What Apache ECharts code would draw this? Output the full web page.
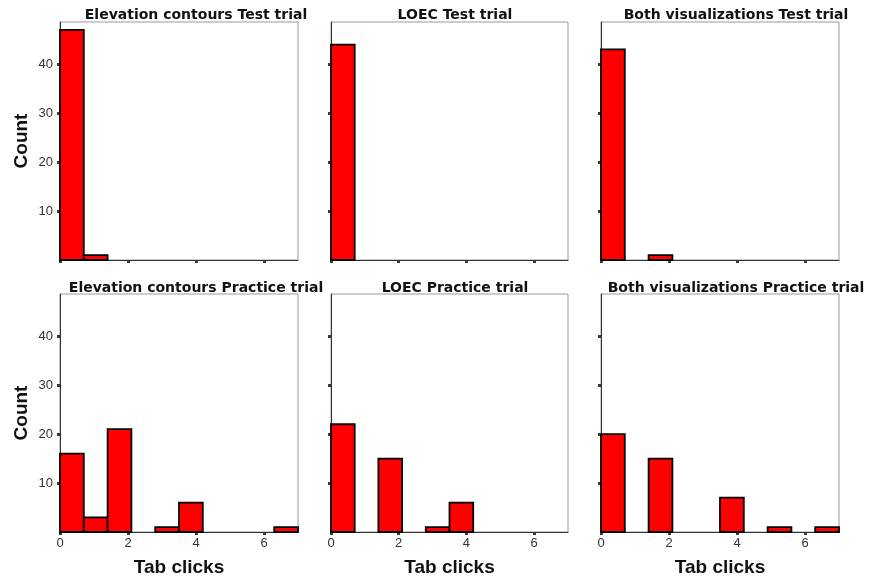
<!DOCTYPE html>
<html>
<head>
<meta charset="utf-8">
<script src="https://cdn.jsdelivr.net/npm/echarts@6/dist/echarts.min.js"></script>
<style>html,body{margin:0;padding:0;background:#fff;}#chart{width:878px;height:581px;}</style>
</head>
<body>
<div id="chart"></div>
<script>
// Histogram bin edges (Tab clicks), bin width 0.7
const binEdges = [0, 0.7, 1.4, 2.1, 2.8, 3.5, 4.2, 4.9, 5.6, 6.3, 7.0];

// Panel titles
const panelTitles = [
  'Elevation contours Test trial', 'LOEC Test trial', 'Both visualizations Test trial',
  'Elevation contours Practice trial', 'LOEC Practice trial', 'Both visualizations Practice trial'
];

// Counts per bin for each panel
const ecTest       = [47, 1, 0, 0, 0, 0, 0, 0, 0, 0];
const loecTest     = [44, 0, 0, 0, 0, 0, 0, 0, 0, 0];
const bothTest     = [43, 0, 1, 0, 0, 0, 0, 0, 0, 0];
const ecPractice   = [16, 3, 21, 0, 1, 6, 0, 0, 0, 1];
const loecPractice = [22, 0, 15, 0, 1, 6, 0, 0, 0, 0];
const bothPractice = [20, 0, 15, 0, 0, 7, 0, 1, 0, 1];

const panelData = [ecTest, loecTest, bothTest, ecPractice, loecPractice, bothPractice];

// Tick values
const xTicks = [0, 2, 4, 6];
const yTicks = [10, 20, 30, 40];

const colLefts = [60, 331, 601];
const colWidths = [238, 237, 238];
const rowTops = [22, 294];
const plotH = 238;
const titleCenters = [196, 455, 736];
const titleYs = [15, 288];

const grids = [], xAxes = [], yAxes = [], series = [], graphics = [];

for (let p = 0; p < 6; p++) {
  const r = Math.floor(p / 3), c = p % 3;
  grids.push({
    left: colLefts[c], top: rowTops[r], width: colWidths[c], height: plotH,
    show: true, borderColor: '#9a9a9a', borderWidth: 1, backgroundColor: '#fff'
  });
  xAxes.push({
    type: 'value', gridIndex: p, min: 0, max: 7, interval: 2,
    name: r === 1 ? 'Tab clicks' : '',
    nameLocation: 'middle', nameGap: 26,
    nameTextStyle: { fontFamily: 'Liberation Sans', fontWeight: 'bold', fontSize: 19, color: '#111' },
    axisLine: { show: true, lineStyle: { color: '#333', width: 1 } },
    axisTick: { show: true, length: 3, customValues: xTicks, lineStyle: { color: '#3a3a3a', width: 3 } },
    axisLabel: { show: r === 1, customValues: xTicks, margin: 5, fontFamily: 'Liberation Sans', fontSize: 13, color: '#333' },
    splitLine: { show: false }
  });
  yAxes.push({
    type: 'value', gridIndex: p, min: 0, max: 48.6, interval: 10,
    name: c === 0 ? 'Count' : '',
    nameLocation: 'middle', nameGap: 29, nameRotate: 90,
    nameTextStyle: { fontFamily: 'Liberation Sans', fontWeight: 'bold', fontSize: 19, color: '#111' },
    axisLine: { show: true, lineStyle: { color: '#333', width: 1 } },
    axisTick: { show: true, length: 3, customValues: yTicks, lineStyle: { color: '#3a3a3a', width: 3 } },
    axisLabel: { show: c === 0, customValues: yTicks, margin: 7, fontFamily: 'Liberation Sans', fontSize: 13, color: '#333' },
    splitLine: { show: false }
  });
  const items = [];
  panelData[p].forEach((v, i) => {
    if (v > 0) items.push([binEdges[i], binEdges[i + 1], v]);
  });
  series.push({
    type: 'custom', xAxisIndex: p, yAxisIndex: p,
    encode: { x: [0, 1], y: 2 },
    data: items,
    renderItem: function (params, api) {
      const p0 = api.coord([api.value(0), api.value(2)]);
      const p1 = api.coord([api.value(1), 0]);
      return {
        type: 'rect',
        shape: { x: p0[0], y: p0[1], width: p1[0] - p0[0], height: p1[1] - p0[1] },
        style: { fill: '#ff0000', stroke: '#000', lineWidth: 1.8 }
      };
    }
  });
  graphics.push({
    type: 'text', x: titleCenters[c], y: titleYs[r],
    style: {
      text: panelTitles[p], textAlign: 'center', textVerticalAlign: 'middle',
      font: 'bold 14px "DejaVu Sans"', fill: '#111'
    }
  });
}

const chart = echarts.init(document.getElementById('chart'), null, { renderer: 'canvas' });
chart.setOption({
  animation: false,
  backgroundColor: '#fff',
  grid: grids, xAxis: xAxes, yAxis: yAxes, series: series,
  graphic: graphics
});
</script>
</body>
</html>
